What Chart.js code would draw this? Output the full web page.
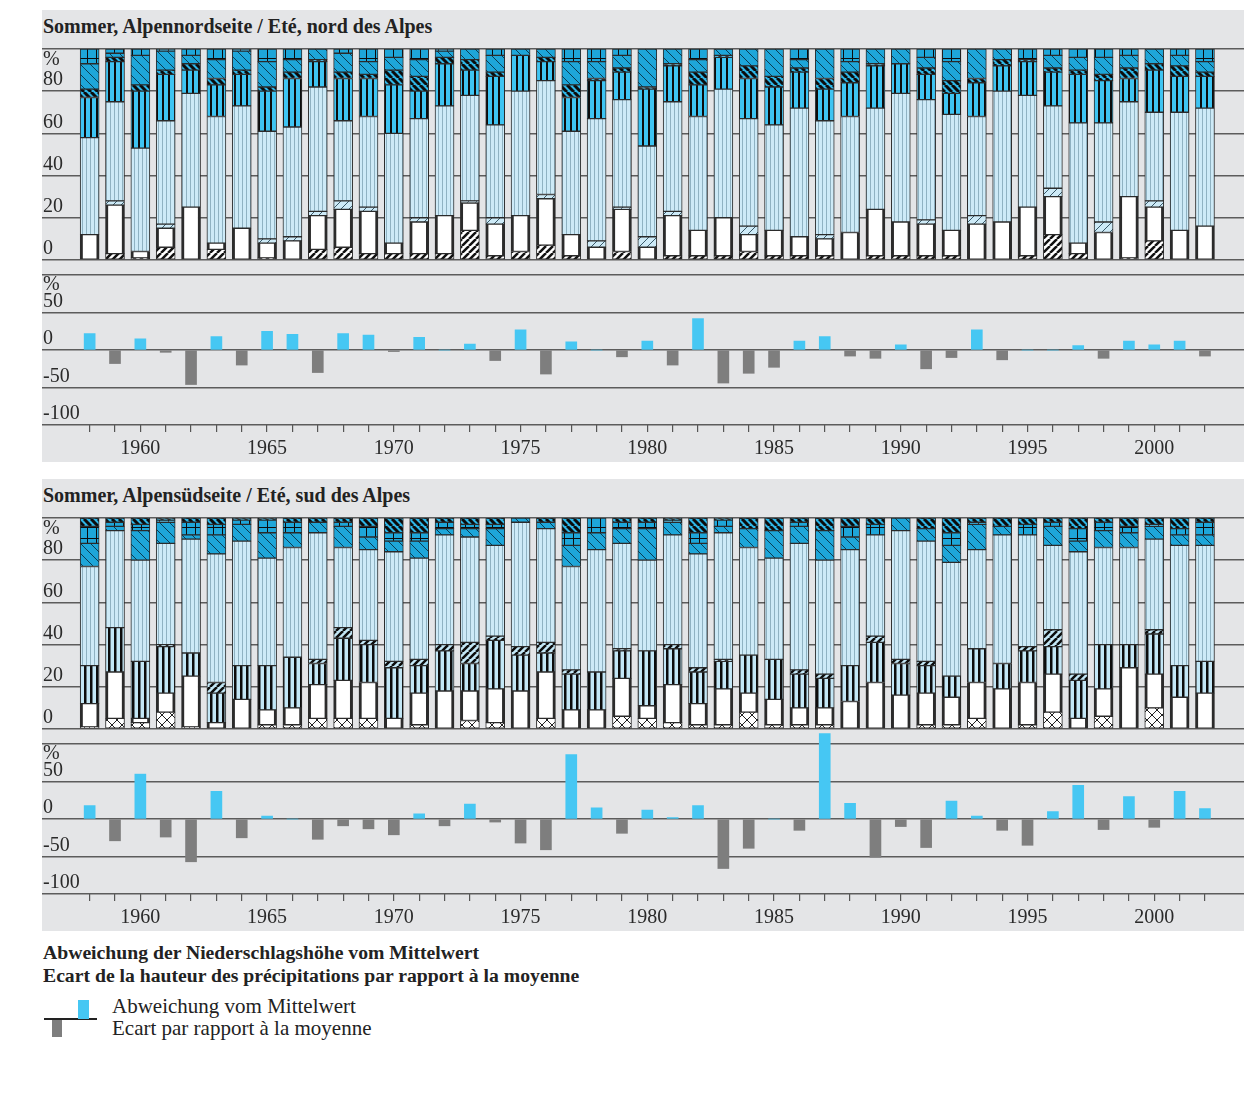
<!DOCTYPE html>
<html>
<head>
<meta charset="utf-8">
<script src="https://cdn.jsdelivr.net/npm/chart.js@4.4.1/dist/chart.umd.min.js"></script>
<style>
body { margin: 0; background: #fff; font-family: "Liberation Serif", serif; color: #222; }
.panel { position: absolute; left: 42px; width: 1202px; height: 452px; background: #e4e5e7; }
.ptitle { position: absolute; left: 1px; top: 6px; font-weight: bold; font-size: 20px; line-height: 20px; white-space: nowrap; }
.panel canvas { position: absolute; left: 0; top: 26px; }
.note { position: absolute; left: 43px; top: 941px; font-weight: bold; font-size: 19.7px; line-height: 23px; white-space: nowrap; }
.leg { position: absolute; left: 112px; top: 995px; font-size: 21px; line-height: 22px; white-space: nowrap; }
.sym { position: absolute; }
</style>
</head>
<body>
<div class="panel" style="top:10px">
  <div class="ptitle">Sommer, Alpennordseite / Eté, nord des Alpes</div>
  <canvas id="nord" width="1202" height="426"></canvas>
</div>
<div class="panel" style="top:479px">
  <div class="ptitle">Sommer, Alpensüdseite / Eté, sud des Alpes</div>
  <canvas id="sud" width="1202" height="426"></canvas>
</div>
<div class="note">Abweichung der Niederschlagshöhe vom Mittelwert<br>Ecart de la hauteur des précipitations par rapport à la moyenne</div>
<div class="sym" style="left:44px;top:1018px;width:53px;height:1.5px;background:#222"></div>
<div class="sym" style="left:78px;top:1000px;width:11px;height:19px;background:#46c7f3"></div>
<div class="sym" style="left:52px;top:1020px;width:10px;height:17px;background:#7e7e7e"></div>
<div class="leg">Abweichung vom Mittelwert<br>Ecart par rapport à la moyenne</div>

<script>
const years = [1958, 1959, 1960, 1961, 1962, 1963, 1964, 1965, 1966, 1967,
  1968, 1969, 1970, 1971, 1972, 1973, 1974, 1975, 1976, 1977,
  1978, 1979, 1980, 1981, 1982, 1983, 1984, 1985, 1986, 1987,
  1988, 1989, 1990, 1991, 1992, 1993, 1994, 1995, 1996, 1997,
  1998, 1999, 2000, 2001, 2002];

// Alpennordseite, shares in % (bottom to top)
const nBottom    = [0, 3, 1, 6, 0, 5, 0, 1, 0, 5, 6, 3, 3, 3, 3, 14, 2, 4, 7, 2, 0, 4, 0, 2, 2, 2, 4, 2, 2, 2, 0, 2, 2, 2, 2, 0, 0, 2, 12, 3, 0, 1, 9, 0, 0];
const nWhite     = [12, 23, 3, 9, 25, 3, 15, 7, 9, 16, 18, 20, 5, 15, 18, 13, 15, 17, 22, 10, 6, 20, 6, 19, 12, 18, 8, 12, 9, 8, 13, 22, 16, 15, 12, 17, 18, 23, 18, 5, 13, 29, 16, 14, 16];
const nLightBand = [0, 2, 0, 2, 0, 0, 0, 2, 2, 2, 4, 2, 0, 2, 0, 1, 3, 0, 2, 0, 3, 1, 5, 2, 0, 0, 4, 0, 0, 2, 0, 0, 0, 2, 0, 4, 0, 0, 4, 0, 5, 0, 3, 0, 0];
const nLight     = [46, 47, 49, 49, 54, 60, 58, 51, 52, 59, 38, 43, 52, 47, 52, 50, 44, 59, 54, 49, 58, 51, 43, 52, 54, 61, 51, 50, 61, 54, 55, 48, 61, 57, 55, 47, 62, 53, 39, 57, 47, 45, 42, 56, 56];
const nBlueBars  = [19, 19, 27, 22, 11, 15, 15, 19, 23, 12, 20, 18, 23, 13, 20, 12, 23, 17, 9, 16, 18, 13, 27, 17, 15, 15, 19, 18, 17, 15, 16, 20, 14, 12, 10, 16, 12, 16, 16, 23, 20, 11, 20, 17, 15];
const nDarkBand  = [4, 2, 3, 2, 3, 3, 2, 2, 3, 1, 3, 2, 7, 7, 3, 5, 2, 0, 2, 6, 1, 2, 1, 1, 6, 1, 6, 5, 2, 5, 5, 1, 0, 3, 6, 2, 3, 1, 2, 2, 3, 5, 3, 5, 2];
const nHatch     = [12, 2, 14, 9, 4, 9, 9, 12, 6, 5, 9, 6, 6, 8, 3, 5, 8, 3, 4, 11, 8, 6, 18, 7, 6, 3, 8, 13, 4, 14, 5, 7, 7, 5, 9, 14, 5, 0, 6, 6, 8, 6, 7, 5, 5];
const nGrid      = [7, 2, 3, 1, 3, 5, 1, 6, 5, 0, 2, 6, 4, 5, 1, 0, 3, 0, 0, 6, 6, 3, 0, 0, 5, 0, 0, 0, 5, 0, 6, 0, 0, 4, 6, 0, 0, 5, 3, 4, 4, 3, 0, 3, 6];
const nDev = [22, -18, 15, -3, -46, 18, -20, 25, 21, -30, 22, 20, -2, 17, 0, 8, -14, 27, -32, 11, 0, -9, 12, -20, 42, -44, -31, -23, 12, 18, -8, -11, 7, -25, -10, 27, -13, 0, 0, 6, -11, 12, 7, 12, -8];

// Alpensüdseite, shares in % (bottom to top)
const sBottom    = [1, 5, 3, 8, 1, 0, 0, 2, 2, 5, 5, 5, 0, 2, 0, 4, 3, 0, 5, 0, 0, 6, 5, 3, 2, 2, 8, 2, 2, 2, 0, 0, 0, 2, 2, 5, 0, 2, 8, 0, 6, 0, 10, 0, 0];
const sWhite     = [11, 22, 2, 9, 24, 3, 14, 7, 8, 16, 18, 17, 5, 15, 18, 14, 16, 18, 22, 9, 9, 18, 6, 18, 10, 17, 9, 12, 8, 8, 13, 22, 16, 15, 13, 17, 19, 20, 18, 5, 13, 29, 16, 15, 17];
const sLightBars = [18, 21, 27, 22, 11, 14, 16, 21, 24, 10, 20, 18, 24, 13, 19, 13, 23, 17, 9, 17, 18, 13, 26, 17, 15, 13, 18, 19, 16, 14, 17, 19, 15, 13, 10, 16, 12, 15, 13, 18, 21, 11, 19, 15, 15];
const sDarkBand  = [0, 0, 0, 1, 0, 5, 0, 0, 0, 2, 5, 2, 3, 3, 3, 10, 2, 4, 5, 2, 0, 1, 0, 2, 2, 1, 0, 0, 2, 2, 0, 3, 2, 2, 0, 0, 0, 2, 8, 3, 0, 0, 2, 0, 0];
const sLight     = [47, 46, 48, 48, 54, 61, 59, 51, 52, 60, 38, 43, 52, 48, 52, 50, 43, 59, 54, 49, 58, 50, 43, 52, 54, 60, 51, 48, 60, 54, 55, 48, 61, 57, 54, 47, 61, 53, 40, 58, 46, 46, 43, 57, 55];
const sHatch     = [11, 2, 14, 10, 2, 9, 8, 12, 7, 5, 10, 6, 5, 8, 3, 4, 8, 2, 3, 10, 8, 7, 15, 6, 5, 3, 9, 13, 8, 14, 6, 0, 6, 6, 8, 12, 4, 0, 9, 5, 8, 7, 6, 5, 5];
const sGrid      = [8, 2, 3, 1, 6, 5, 2, 6, 5, 0, 2, 5, 4, 4, 3, 2, 2, 0, 0, 6, 7, 3, 3, 1, 5, 3, 0, 0, 2, 0, 5, 5, 0, 0, 6, 1, 0, 5, 2, 6, 4, 3, 1, 3, 6];
const sDarkTop   = [4, 2, 3, 1, 2, 3, 1, 1, 2, 2, 2, 4, 7, 7, 2, 3, 3, 0, 2, 7, 0, 2, 2, 1, 7, 1, 5, 6, 2, 6, 4, 3, 0, 5, 7, 2, 4, 3, 2, 5, 2, 4, 3, 5, 2];
const sDev = [18, -29, 60, -24, -57, 37, -25, 4, 0, -27, -9, -13, -21, 7, -9, 20, -4, -32, -41, 86, 15, -19, 12, 2, 18, -66, -39, 0, -15, 114, 21, -51, -10, -38, 24, 4, -15, -35, 10, 45, -14, 30, -11, 37, 14];

const pctTicks = [0, 20, 40, 60, 80, 100];
const devTicks = [-100, -50, 0, 50, 100];

// fill patterns
function tile(w, h, bg, draw) {
  const c = document.createElement('canvas');
  c.width = w; c.height = h;
  const g = c.getContext('2d');
  g.fillStyle = bg; g.fillRect(0, 0, w, h);
  if (draw) draw(g, w, h);
  return g.createPattern(c, 'repeat');
}
function vbars(col, lw) {
  return (g, w, h) => { g.fillStyle = col; g.fillRect(0, 0, lw, h); };
}
function diag(col, lw, up) {
  return (g, w, h) => {
    g.strokeStyle = col; g.lineWidth = lw; g.beginPath();
    for (let k = -1; k <= 1; k++) {
      if (up) { g.moveTo(k * w, h); g.lineTo(k * w + w, 0); }
      else { g.moveTo(k * w, 0); g.lineTo(k * w + w, h); }
    }
    g.stroke();
  };
}
function cross(col) {
  return (g, w, h) => { diag(col, 1, true)(g, w, h); diag(col, 1, false)(g, w, h); };
}
function gridLines(col) {
  return (g, w, h) => { g.fillStyle = col; g.fillRect(0, 0, 1, h); g.fillRect(0, 0, w, 1); };
}

const blue = '#1ea6d9';
const pDarkHatch = tile(7, 7, '#ffffff', diag('#111', 2.5, true));
const pCross = tile(10, 10, '#ffffff', cross('#222'));
const pLight = tile(4, 4, '#cdeaf7', vbars('#8fb2c2', 1));
const pLightBand = tile(8, 8, '#cdeaf7', diag('#3a5a6a', 1, true));
const pBlueBars = tile(6, 6, '#3ec4f2', vbars('#0c0c0c', 2));
const pDarkBand = tile(7, 7, '#2fb5e5', diag('#0c0c0c', 3, false));
const pHatch = tile(10, 10, blue, diag('#0b3d52', 1, false));
const pGrid = tile(9, 11, blue, gridLines('#0c0c0c'));
const pLightBars = tile(6, 6, '#c3e7f6', vbars('#0c0c0c', 2.5));
const pLightDark = tile(7, 7, '#c3e7f6', diag('#0c0c0c', 2.5, true));

const pctMark = {
  id: 'pctMark',
  afterDraw(chart) {
    const g = chart.ctx, a = chart.chartArea;
    g.save();
    g.font = '20px "Liberation Serif"';
    g.fillStyle = '#2a2a2a';
    g.textBaseline = 'middle';
    g.fillText('%', a.left + 1, chart.scales.yp.getPixelForValue(100) + 11);
    g.fillText('%', a.left + 1, chart.scales.yd.getPixelForValue(100) + 10);
    g.restore();
  }
};

const tickFont = {family: '"Liberation Serif"', size: 20};

function panel(id, layers, dev) {
  const datasets = layers.map(l => ({
    data: years.map((yr, i) => ({x: yr, y: l[0][i]})),
    backgroundColor: l[1],
    borderColor: '#2b2b2b',
    borderWidth: l[2] || 1,
    borderSkipped: false,
    barThickness: 19,
    yAxisID: 'yp'
  }));
  datasets.push({
    data: years.map((yr, i) => ({x: yr, y: dev[i]})),
    backgroundColor: c => (c.raw && c.raw.y < 0) ? '#7e7e7e' : '#46c7f3',
    borderWidth: 0,
    barThickness: 11,
    yAxisID: 'yd'
  });

  new Chart(document.getElementById(id), {
    type: 'bar',
    data: {datasets: datasets},
    options: {
      responsive: false,
      animation: false,
      layout: {padding: {top: 10}},
      plugins: {legend: {display: false}, tooltip: {enabled: false}},
      scales: {
        x: {
          type: 'linear', min: 1956.12, max: 2003.54, stacked: true, offset: false,
          afterBuildTicks: s => { s.ticks = years.map(v => ({value: v})); },
          afterFit: s => { s.height = 37; },
          grid: {drawOnChartArea: false, drawTicks: true, tickLength: 7, color: '#555', lineWidth: 1.2, offset: false},
          border: {display: false},
          ticks: {autoSkip: false, maxRotation: 0, padding: 5, font: tickFont, color: '#2a2a2a',
            callback: v => v % 5 === 0 ? String(v) : ''}
        },
        yd: {
          position: 'left', stack: 'p', stackWeight: 166.3, min: -100, max: 120.3, z: 1,
          afterBuildTicks: s => { s.ticks = devTicks.map(v => ({value: v})); },
          afterFit: s => { s.width = 0; },
          grid: {color: '#5c5c5c', lineWidth: 1.4, drawTicks: false},
          border: {display: false},
          ticks: {autoSkip: false, mirror: true, padding: 1, labelOffset: -11, font: tickFont, color: '#2a2a2a',
            callback: v => v === 100 ? '' : String(v)}
        },
        yp: {
          position: 'left', stack: 'p', stackWeight: 212.5, min: 0, max: 100, stacked: true, z: 1,
          afterBuildTicks: s => { s.ticks = pctTicks.map(v => ({value: v})); },
          afterFit: s => { s.width = 0; },
          grid: {color: '#5c5c5c', lineWidth: 1.4, drawTicks: false},
          border: {display: false},
          ticks: {autoSkip: false, mirror: true, padding: 1, labelOffset: -11, font: tickFont, color: '#2a2a2a',
            callback: v => v === 100 ? '' : String(v)}
        }
      }
    },
    plugins: [pctMark]
  });
}

panel('nord', [
  [nBottom, pDarkHatch],
  [nWhite, '#ffffff', {left: 3, right: 3, top: 1, bottom: 1}],
  [nLightBand, pLightBand],
  [nLight, pLight],
  [nBlueBars, pBlueBars],
  [nDarkBand, pDarkBand],
  [nHatch, pHatch],
  [nGrid, pGrid]
], nDev);

panel('sud', [
  [sBottom, pCross],
  [sWhite, '#ffffff', {left: 3, right: 3, top: 1, bottom: 1}],
  [sLightBars, pLightBars],
  [sDarkBand, pLightDark],
  [sLight, pLight],
  [sHatch, pHatch],
  [sGrid, pGrid],
  [sDarkTop, pDarkBand]
], sDev);
</script>
</body>
</html>
